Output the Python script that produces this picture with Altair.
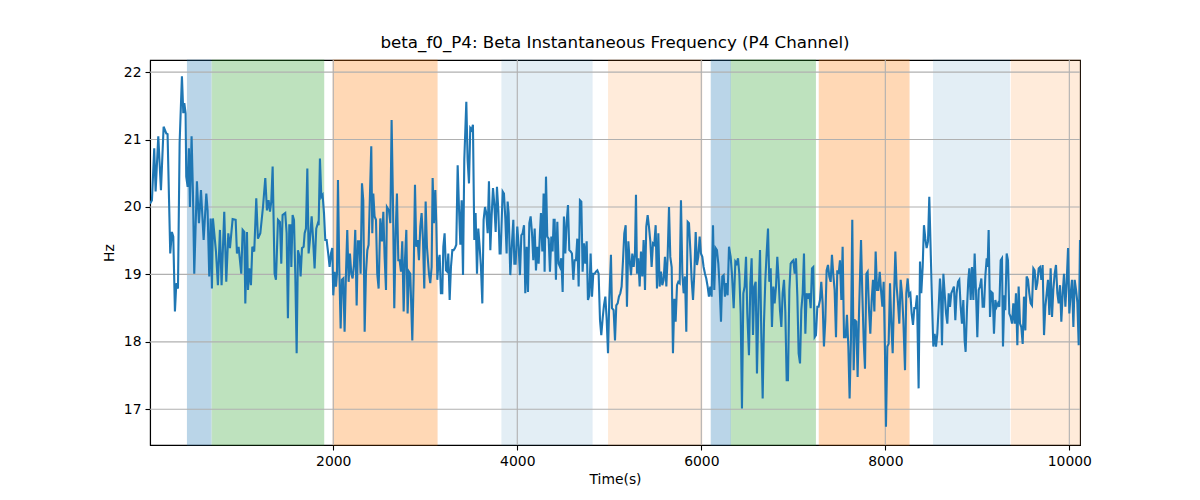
import altair as alt
import pandas as pd

chart_title = "beta_f0_P4: Beta Instantaneous Frequency (P4 Channel)"
x_title = "Time(s)"
y_title = "Hz"

time_s = [
    8, 29, 54, 69, 98, 127, 156, 185, 199, 228, 246, 261, 279, 294, 312, 330, 355, 370, 381, 395,
    402, 417, 431, 442, 460, 475, 489, 518, 540, 562, 591, 620, 634, 652, 667, 681, 692, 710, 725, 746,
    768, 786, 815, 837, 859, 877, 906, 939, 953, 971, 1000, 1015, 1033, 1044, 1062, 1073, 1087, 1105, 1120, 1141,
    1163, 1181, 1207, 1236,
    1261, 1279, 1297, 1312, 1326, 1341, 1362, 1377, 1399, 1420, 1435, 1449, 1478, 1493, 1507, 1522, 1536, 1544, 1558, 1573,
    1587, 1602, 1616, 1634, 1645, 1660, 1678, 1689, 1703, 1718, 1732, 1746, 1765, 1779, 1797, 1815, 1833, 1841, 1855, 1870,
    1884, 1899, 1913, 1928, 1949, 1960, 1975, 1989, 2000, 2015, 2029, 2040, 2051, 2065, 2080, 2094, 2109, 2123, 2138, 2152,
    2167, 2181, 2196, 2210, 2225, 2239, 2254, 2268, 2283, 2297, 2312, 2326, 2341, 2355, 2370, 2384, 2399, 2413, 2424, 2435,
    2449, 2464, 2478, 2493, 2511, 2529, 2544, 2558,
    2573, 2583, 2605, 2620, 2634, 2649, 2663, 2678, 2692, 2707, 2721, 2736, 2750, 2765, 2779, 2794, 2808, 2823, 2837, 2859,
    2873, 2888, 2902, 2917, 2931, 2946, 2960, 2975, 2989, 3004, 3018, 3040, 3054, 3069, 3080, 3094, 3109, 3120, 3131, 3145,
    3156, 3170, 3185, 3196, 3210, 3225, 3239, 3250, 3265, 3279, 3294, 3308, 3323, 3337, 3352, 3366, 3381, 3395, 3410, 3424,
    3446, 3460, 3475, 3489, 3504, 3518, 3533, 3547, 3562, 3576, 3591, 3605, 3620, 3634, 3649, 3663, 3678, 3692, 3707, 3721,
    3736, 3750, 3765, 3779, 3794, 3808,
    3819, 3841, 3855, 3870, 3884, 3895, 3906, 3924, 3942, 3957, 3968, 3982, 4000, 4015, 4029, 4044, 4058, 4073, 4087, 4102,
    4116, 4131, 4145, 4160, 4174, 4189, 4203, 4218, 4232, 4246, 4257, 4272, 4286, 4297, 4312, 4326, 4341, 4355, 4370, 4384,
    4395, 4406, 4420, 4435, 4449, 4464, 4478, 4493, 4507, 4522, 4536, 4551, 4565, 4580, 4594, 4609, 4623, 4638, 4652, 4667,
    4681, 4696, 4710, 4725, 4739, 4754, 4768, 4783, 4797, 4812, 4826, 4841, 4855, 4870, 4884, 4899, 4913, 4928, 4942, 4957,
    4971, 4986, 5000, 5018, 5029, 5047,
    5062, 5076, 5091, 5105, 5120, 5134, 5149, 5163, 5178, 5192, 5207, 5221, 5236, 5250, 5265, 5279, 5290, 5301, 5315, 5330,
    5344, 5359, 5373, 5388, 5402, 5417, 5431, 5446, 5460, 5475, 5489, 5504, 5518, 5533, 5547, 5562, 5576, 5591, 5605, 5620,
    5634, 5649, 5663, 5678, 5692, 5707, 5721, 5736, 5750, 5765, 5779, 5794, 5808, 5823, 5837, 5852, 5866, 5881, 5895, 5910,
    5924, 5939, 5953, 5967, 5982, 5996, 6011, 6025, 6040, 6054, 6069, 6083, 6098, 6112, 6127, 6141, 6156, 6170, 6185, 6199,
    6214, 6228, 6243, 6257, 6272, 6286, 6301,
    6319, 6333, 6352, 6370, 6384, 6399, 6413, 6428, 6442, 6457, 6471, 6486, 6500, 6518, 6533, 6547, 6562, 6576, 6591, 6605,
    6623, 6638, 6652, 6667, 6681, 6696, 6710, 6725, 6739, 6754, 6768, 6783, 6797, 6812, 6826, 6841, 6855, 6870, 6884, 6899,
    6913, 6928, 6942, 6957, 6971, 6986, 7000, 7015, 7029, 7044, 7058, 7073, 7087, 7102, 7116, 7131, 7145, 7160, 7174, 7189,
    7203, 7217, 7232, 7246, 7261, 7275, 7290, 7304, 7319, 7333, 7348, 7362, 7377, 7391, 7406, 7420, 7435, 7449, 7464, 7478,
    7493, 7507, 7522, 7536, 7551,
    7569, 7583, 7598, 7612, 7627, 7641, 7656, 7670, 7685, 7699, 7714, 7736, 7750, 7765, 7779, 7794, 7808, 7823, 7837, 7852,
    7866, 7881, 7895, 7910, 7924, 7939, 7953, 7968, 7982, 7996, 8007, 8022, 8036, 8051, 8065, 8080, 8094, 8109, 8123, 8138,
    8152, 8167, 8181, 8196, 8214, 8228, 8243, 8257, 8272, 8286, 8301, 8315, 8330, 8344, 8362, 8377, 8391, 8406, 8420, 8435,
    8449, 8464, 8478, 8493, 8507, 8522, 8536, 8551, 8565, 8580, 8594, 8605, 8616, 8631, 8645, 8660, 8674, 8689, 8703, 8717,
    8732, 8746, 8761, 8775, 8790, 8804,
    8819, 8833, 8848, 8862, 8873, 8888, 8902, 8913, 8928, 8942, 8957, 8971, 8986, 9000, 9015, 9029, 9044, 9058, 9073, 9087,
    9102, 9112, 9123, 9138, 9152, 9167, 9181, 9196, 9210, 9225, 9239, 9254, 9268, 9279, 9294, 9304, 9319, 9333, 9348, 9362,
    9377, 9391, 9406, 9420, 9435, 9449, 9464, 9478, 9493, 9507, 9522, 9536, 9551, 9565, 9580, 9594, 9609, 9623, 9638, 9652,
    9667, 9681, 9696, 9710, 9725, 9739, 9754, 9768, 9783, 9797, 9812, 9826, 9841, 9855, 9870, 9884, 9899, 9913, 9928, 9942,
    9957, 9971, 9986, 10000, 10015, 10029, 10044, 10058, 10073, 10087, 10102, 10116,
]

freq_hz = [
    20.05, 20.10, 20.87, 20.23, 21.05, 20.25, 21.19, 21.09, 21.08, 19.31, 19.63, 19.56, 18.45, 18.87, 18.79, 20.95, 21.94, 21.39, 21.54, 21.39,
    20.45, 20.30, 20.87, 20.00, 21.05, 20.20, 19.01, 20.38, 19.76, 20.25, 19.51, 20.20, 19.95, 18.97, 19.83, 18.79, 19.83, 19.56, 19.34, 18.84,
    19.66, 18.84, 19.93, 18.89, 19.61, 19.39, 19.82, 19.81, 19.31, 19.41, 19.01, 19.66, 19.63, 18.57, 19.63, 18.77, 19.09, 18.84, 19.41, 19.34,
    20.13, 19.53, 19.61, 20.00,
    20.43, 19.95, 20.10, 19.93, 20.08, 20.60, 19.01, 18.92, 19.81, 19.78, 19.16, 19.88, 19.91, 19.61, 18.35, 19.73, 19.73, 19.11, 19.88, 19.81,
    19.01, 17.83, 19.36, 19.26, 18.97, 19.39, 19.41, 19.61, 19.68, 20.57, 19.31, 19.51, 19.86, 19.56, 19.09, 19.68, 19.76, 19.73, 20.72, 20.15,
    20.18, 19.91, 19.51, 19.51, 19.26, 19.11, 19.31, 19.39, 18.69, 19.04, 18.82, 19.01, 20.40, 19.11, 18.20, 18.92, 18.94, 18.15, 19.01, 19.66,
    18.89, 19.31, 19.01, 18.94, 19.14, 19.66, 18.54, 19.49, 19.49, 19.01, 20.35, 20.10, 18.15, 19.01, 19.36, 19.44, 20.20, 20.90, 19.61, 20.20,
    19.86, 19.81, 19.01, 18.79, 19.83, 19.49, 19.93, 19.26,
    18.77, 20.00, 19.95, 19.76, 21.29, 20.05, 18.50, 19.61, 20.20, 19.21, 19.21, 19.04, 19.49, 18.45, 19.21, 19.66, 18.42, 19.04, 19.01, 18.02,
    18.92, 20.33, 19.41, 19.51, 19.21, 19.71, 19.91, 19.51, 18.79, 20.08, 19.41, 19.01, 18.87, 19.11, 20.43, 19.76, 20.25, 19.76, 18.92, 19.21,
    19.29, 18.72, 18.72, 19.41, 19.61, 19.06, 19.04, 19.31, 18.62, 19.11, 19.36, 19.36, 19.39, 19.44, 20.62, 20.00, 19.44, 20.10, 18.99, 20.70,
    21.56, 20.70, 20.35, 21.17, 21.14, 21.22, 19.51, 19.91, 19.01, 19.68, 19.41, 19.11, 18.57, 19.81, 20.00, 19.91, 19.61, 20.38, 19.36, 19.86,
    20.28, 20.05, 19.63, 20.30, 19.95, 19.31,
    19.31, 20.23, 20.20, 19.83, 19.31, 20.08, 19.91, 18.99, 19.46, 19.81, 19.16, 19.16, 19.71, 19.41, 18.99, 19.58, 19.61, 19.73, 18.72, 19.41,
    18.74, 19.76, 19.86, 19.61, 19.21, 19.68, 19.06, 19.41, 19.16, 19.61, 19.91, 19.34, 20.20, 19.04, 20.45, 19.56, 19.53, 19.04, 19.56, 19.34,
    19.81, 19.81, 18.92, 19.78, 19.16, 19.11, 19.24, 18.74, 19.86, 19.31, 19.76, 20.03, 19.36, 19.34, 19.31, 18.92, 19.21, 19.21, 19.53, 18.82,
    20.10, 20.08, 19.04, 19.46, 19.16, 19.49, 18.62, 18.69, 19.31, 18.67, 19.01, 19.01, 19.04, 19.06, 19.01, 18.32, 18.10, 18.35, 18.54, 18.67,
    18.35, 17.83, 18.62, 19.29, 18.50, 18.47,
    18.02, 18.54, 18.57, 18.67, 18.72, 18.82, 19.21, 19.61, 19.73, 18.52, 19.49, 19.21, 18.99, 19.31, 19.11, 19.31, 20.18, 19.01, 19.24, 18.82,
    19.34, 18.97, 19.51, 18.77, 19.71, 19.88, 19.71, 19.49, 19.11, 19.46, 19.44, 19.73, 18.79, 19.61, 18.82, 19.04, 18.84, 18.92, 19.26, 18.82,
    19.26, 20.00, 19.26, 19.11, 17.83, 18.64, 18.30, 18.84, 18.89, 18.87, 20.10, 19.01, 18.72, 18.97, 18.15, 19.78, 19.76, 19.36, 18.92, 18.62,
    19.01, 19.63, 19.14, 19.26, 19.56, 19.31, 19.26, 19.11, 19.01, 18.94, 18.82, 18.67, 18.82, 18.67, 19.73, 18.77, 19.39, 19.36, 19.16, 18.82,
    18.30, 18.97, 18.99, 18.67, 18.87, 18.69, 19.41,
    19.26, 19.01, 18.50, 19.19, 19.16, 19.24, 19.01, 18.42, 17.01, 18.72, 18.82, 19.26, 18.42, 17.80, 18.87, 19.24, 18.10, 18.82, 18.89, 17.53,
    18.67, 19.36, 18.12, 17.16, 18.27, 18.92, 19.31, 19.68, 18.89, 19.09, 18.22, 18.82, 18.57, 18.82, 19.26, 18.92, 18.47, 18.22, 18.72, 18.92,
    18.45, 17.43, 17.43, 18.77, 19.16, 19.19, 19.21, 19.01, 19.24, 18.67, 17.83, 17.68, 18.47, 18.72, 19.31, 18.12, 18.72, 18.64, 18.72, 18.50,
    19.09, 19.11, 18.07, 18.10, 18.52, 18.52, 18.62, 18.89, 18.57, 17.93, 18.32, 19.06, 19.14, 18.97, 18.89, 19.29, 18.99, 18.77, 18.07, 19.06,
    19.01, 19.21, 18.62, 19.41, 18.07,
    18.07, 18.40, 17.93, 17.16, 18.07, 19.81, 17.58, 18.32, 18.30, 17.48, 18.42, 19.51, 18.72, 18.02, 17.60, 19.01, 19.04, 18.47, 18.12, 18.62,
    18.92, 18.45, 19.34, 18.77, 18.77, 19.04, 18.77, 18.52, 18.89, 17.88, 16.74, 17.93, 17.97, 18.87, 18.27, 17.83, 18.64, 19.34, 18.82, 18.57,
    18.27, 18.92, 18.72, 18.32, 17.58, 18.72, 18.94, 18.69, 18.72, 18.42, 18.25, 18.50, 18.50, 18.69, 17.31, 19.19, 18.72, 19.11, 19.73, 19.53,
    19.39, 19.49, 20.15, 19.36, 18.62, 17.93, 18.12, 17.93, 18.12, 18.52, 18.94, 18.72, 17.95, 19.01, 18.72, 18.42, 18.27, 18.72, 18.52, 18.72,
    18.77, 18.82, 18.32, 18.72, 18.89, 18.92,
    18.52, 18.27, 18.62, 18.02, 17.85, 18.50, 18.92, 19.09, 18.62, 19.11, 18.62, 19.31, 18.72, 18.07, 18.77, 18.82, 18.94, 18.52, 18.52, 18.97,
    19.24, 19.11, 19.66, 18.37, 18.74, 18.72, 18.12, 18.62, 18.52, 18.57, 18.52, 19.21, 19.24, 17.93, 18.69, 18.47, 19.31, 19.21, 18.42, 18.37,
    18.27, 18.57, 18.27, 18.72, 17.95, 18.82, 18.27, 18.22, 17.97, 18.67, 18.17, 18.97, 18.92, 18.72, 18.57, 18.54, 19.09, 19.06, 18.77, 18.87,
    19.09, 19.11, 18.92, 19.14, 18.10, 18.52, 18.72, 18.92, 18.40, 19.09, 18.37, 18.77, 19.01, 19.14, 18.72, 18.57, 18.84, 18.30, 18.72, 19.01,
    18.52, 18.87, 19.39, 18.42, 18.72, 18.92, 18.22, 18.92, 18.77, 18.59, 17.95, 19.51,
]

span_start = [416, 685, 2000, 3834, 4993, 6109, 6326, 7283, 8525, 9370]
span_end = [670, 1895, 3127, 4812, 6005, 6315, 7239, 8257, 9348, 10116]
span_color = ["#1f77b4", "#2ca02c", "#ff7f0e", "#1f77b4", "#ff7f0e",
              "#1f77b4", "#2ca02c", "#ff7f0e", "#1f77b4", "#ff7f0e"]
span_alpha = [0.3, 0.3, 0.3, 0.12, 0.15, 0.3, 0.3, 0.3, 0.12, 0.15]

x_ticks = [2000, 4000, 6000, 8000, 10000]
y_ticks = [17, 18, 19, 20, 21, 22]
x_domain = [8, 10116]
y_domain = [16.47, 22.18]

line_df = pd.DataFrame({"t": time_s, "hz": freq_hz})
span_df = pd.DataFrame({"start": span_start, "end": span_end,
                        "color": span_color, "alpha": span_alpha})
xgrid_df = pd.DataFrame({"t": x_ticks})
ygrid_df = pd.DataFrame({"hz": y_ticks})

xs = alt.Scale(domain=x_domain, nice=False, zero=False)
ys = alt.Scale(domain=y_domain, nice=False, zero=False)

x_axis = alt.Axis(values=x_ticks, format="d", grid=False, tickSize=5,
                  labelPadding=4, titlePadding=5)
y_axis = alt.Axis(values=y_ticks, format="d", grid=False, tickSize=5,
                  labelPadding=4, titlePadding=7)

spans = alt.Chart(span_df).mark_rect(strokeWidth=1.2).encode(
    x=alt.X("start:Q", scale=xs, axis=x_axis, title=x_title),
    x2="end:Q",
    color=alt.Color("color:N", scale=None, legend=None),
    stroke=alt.Stroke("color:N", scale=None, legend=None),
    opacity=alt.Opacity("alpha:Q", scale=None, legend=None),
)

xgrid = alt.Chart(xgrid_df).mark_rule(color="#b0b0b0", strokeWidth=1.1).encode(
    x=alt.X("t:Q", scale=xs, axis=x_axis, title=x_title)
)
ygrid = alt.Chart(ygrid_df).mark_rule(color="#b0b0b0", strokeWidth=1.1).encode(
    y=alt.Y("hz:Q", scale=ys, axis=y_axis, title=y_title)
)

line = alt.Chart(line_df).mark_line(color="#1f77b4", strokeWidth=2.1, clip=True).encode(
    x=alt.X("t:Q", scale=xs, axis=x_axis, title=x_title),
    y=alt.Y("hz:Q", scale=ys, axis=y_axis, title=y_title),
)

chart = alt.layer(spans, xgrid, ygrid, line).properties(
    width=930,
    height=385,
    autosize="none",
    padding={"left": 142, "top": 52, "right": 112, "bottom": 47},
    title=alt.TitleParams(chart_title, fontSize=16.7, font="DejaVu Sans",
                          fontWeight="normal", color="black", offset=8,
                          anchor="middle"),
).configure(
    background="white"
).configure_view(
    stroke="black", strokeWidth=1.1
).configure_axis(
    domainColor="black", domainWidth=1.1, tickColor="black", tickWidth=1.1,
    labelColor="black", titleColor="black", labelFont="DejaVu Sans",
    titleFont="DejaVu Sans", labelFontSize=13.9, titleFontSize=13.9,
    titleFontWeight="normal",
)

chart.save("out.html", embed_options={"renderer": "svg", "actions": False})
